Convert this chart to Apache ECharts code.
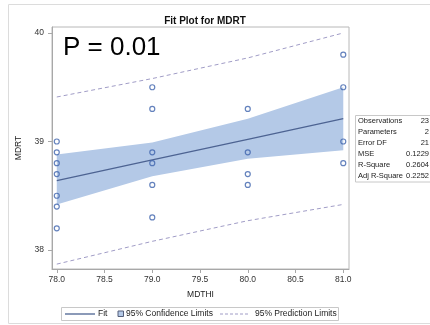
<!DOCTYPE html>
<html><head><meta charset="utf-8">
<script src="https://cdn.jsdelivr.net/npm/echarts@6/dist/echarts.min.js"></script>
<style>html,body{margin:0;padding:0;background:#fff}#c{width:430px;height:325px}</style>
</head><body><div id="c"></div>
<script>
// observed points
const obsX = [78,78,78,78,78,78,78, 79,79,79,79,79,79, 80,80,80,80, 81,81,81,81];
const obsY = [39.0,38.9,38.8,38.7,38.5,38.4,38.2, 39.5,39.3,38.9,38.8,38.6,38.3, 39.3,38.9,38.7,38.6, 39.8,39.5,39.0,38.8];
// fit line and limits
const bandX = [78, 79, 80, 81];
const fitY = [38.64, 38.83, 39.02, 39.21];
const ciLower = [38.42, 38.68, 38.84, 38.92];
const ciUpper = [38.88, 38.99, 39.21, 39.50];
const predLower = [37.87, 38.08, 38.27, 38.42];
const predUpper = [39.41, 39.58, 39.77, 40.00];
// ticks
const xTicks = [78.0, 78.5, 79.0, 79.5, 80.0, 80.5, 81.0];
const yTicks = [38, 39, 40];
// stats table
const statLabels = ['Observations','Parameters','Error DF','MSE','R-Square','Adj R-Square'];
const statValues = ['23','2','21','0.1229','0.2604','0.2252'];
// legend labels
const legendLabels = ['Fit', '95% Confidence Limits', '95% Prediction Limits'];

const FONT = 'Liberation Sans, Arial, sans-serif';
const C_FIT = '#4d6392', C_BAND = '#b4c9e7', C_PRED = '#a09cc6', C_PT = '#3d63ad';
const chart = echarts.init(document.getElementById('c'), null, {renderer:'canvas'});

const zip = (xs, ys) => xs.map((x,i)=>[x, ys[i]]);

const statGraphics = [];
const rowTop = 115, rowH = 11;
statGraphics.push({type:'rect', shape:{x:355.5, y:rowTop+0.5, width:80, height:statLabels.length*rowH+0.5},
  style:{fill:'#fff', stroke:'#c8c8c8', lineWidth:1}});
statLabels.forEach((l,i)=>{
  statGraphics.push({type:'text', x:358, y:rowTop+2+i*rowH, style:{text:l, font:'7.5px '+FONT, fill:'#222', verticalAlign:'top'}});
  statGraphics.push({type:'text', x:429, y:rowTop+2+i*rowH, style:{text:statValues[i], font:'7.5px '+FONT, fill:'#222', verticalAlign:'top', align:'right'}});
});

const LY = 314;
const legendGraphics = [
  {type:'rect', shape:{x:61.5, y:307.5, width:277, height:13}, style:{fill:'#fff', stroke:'#c8c8c8', lineWidth:1}},
  {type:'line', shape:{x1:65, y1:LY, x2:95, y2:LY}, style:{stroke:C_FIT, lineWidth:1.3}},
  {type:'text', x:98, y:LY, style:{text:legendLabels[0], font:'8.5px '+FONT, fill:'#222', verticalAlign:'middle'}},
  {type:'rect', shape:{x:118, y:LY-3, width:5.5, height:5.5}, style:{fill:C_BAND, stroke:'#555f7a', lineWidth:1}},
  {type:'text', x:126, y:LY, style:{text:legendLabels[1], font:'8.5px '+FONT, fill:'#222', verticalAlign:'middle'}},
  {type:'line', shape:{x1:220, y1:LY, x2:250, y2:LY}, style:{stroke:C_PRED, lineWidth:1, lineDash:[3,2]}},
  {type:'text', x:255, y:LY, style:{text:legendLabels[2], font:'8.5px '+FONT, fill:'#222', verticalAlign:'middle'}}
];

const option = {
  animation:false,
  title:{text:'Fit Plot for MDRT', left:200, textAlign:'center', top:11,
    textStyle:{fontFamily:FONT, fontSize:10, fontWeight:'bold', color:'#111'}},
  grid:{left:52, right:81, top:27, bottom:56, show:true, borderColor:'#b8b8b8', borderWidth:1},
  xAxis:{type:'value', min:77.95, max:81.06,
    name:'MDTHI', nameLocation:'middle', nameGap:21,
    nameTextStyle:{fontFamily:FONT, fontSize:8.5, color:'#222'},
    axisLine:{show:true, lineStyle:{color:'#a8a8a8'}},
    axisTick:{show:true, length:4, customValues:xTicks, lineStyle:{color:'#a8a8a8'}},
    axisLabel:{customValues:xTicks, formatter:v=>Number(v).toFixed(1), fontFamily:FONT, fontSize:8.5, color:'#333', margin:6},
    splitLine:{show:false}},
  yAxis:{type:'value', min:37.825, max:40.055,
    name:'MDRT', nameLocation:'middle', nameGap:25,
    nameTextStyle:{fontFamily:FONT, fontSize:8.5, color:'#222'},
    axisLine:{show:true, lineStyle:{color:'#a8a8a8'}},
    axisTick:{show:true, length:4, customValues:yTicks, lineStyle:{color:'#a8a8a8'}},
    axisLabel:{customValues:yTicks, formatter:v=>String(v), fontFamily:FONT, fontSize:8.5, color:'#333', margin:8},
    splitLine:{show:false}},
  series:[
    {name:'95% Confidence Limits', type:'custom', z:1,
      data: bandX.map((x,i)=>[x, ciLower[i], ciUpper[i]]),
      renderItem:(params, api)=>{
        if (params.dataIndex !== 0) return null;
        const pts = [];
        bandX.forEach((x,i)=>pts.push(api.coord([x, ciUpper[i]])));
        for (let i=bandX.length-1;i>=0;i--) pts.push(api.coord([bandX[i], ciLower[i]]));
        return {type:'polygon', shape:{points:pts}, style:{fill:C_BAND}};
      }},
    {name:'Fit', type:'line', z:3, data:zip(bandX, fitY), symbol:'none',
      lineStyle:{color:C_FIT, width:1.3}},
    {name:'95% Prediction Limits', type:'line', z:3, data:zip(bandX, predUpper), symbol:'none',
      lineStyle:{color:C_PRED, width:1, type:[4,3]}},
    {name:'95% Prediction Limits', type:'line', z:3, data:zip(bandX, predLower), symbol:'none',
      lineStyle:{color:C_PRED, width:1, type:[4,3]}},
    {name:'obs', type:'scatter', z:4, data:zip(obsX, obsY), symbol:'circle', symbolSize:5,
      itemStyle:{color:'rgba(255,255,255,0)', borderColor:C_PT, borderWidth:1.2}}
  ],
  graphic:[
    {type:'rect', shape:{x:8.5, y:4.5, width:440, height:319}, style:{fill:'none', stroke:'#dcdcdc', lineWidth:1}, z:-10},
    {type:'text', x:63, y:35, style:{text:'P = 0.01', font:'26px '+FONT, fill:'#000', verticalAlign:'top'}, z:10},
    ...statGraphics,
    ...legendGraphics
  ]
};
chart.setOption(option);
</script>
</body></html>
